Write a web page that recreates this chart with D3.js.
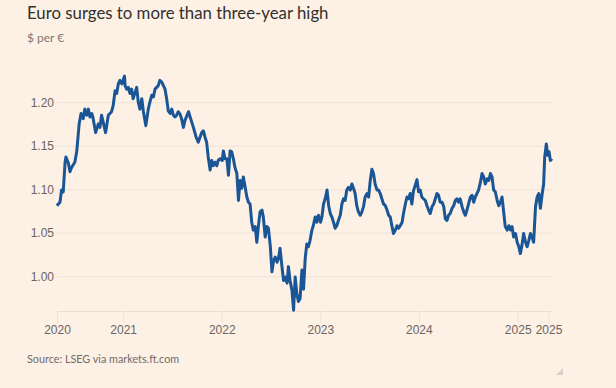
<!DOCTYPE html>
<html>
<head>
<meta charset="utf-8">
<script src="https://cdn.jsdelivr.net/npm/d3@7"></script>
<style>
  body { margin: 0; background: #fdf0e5; }
  svg { display: block; font-family: Lato, "Open Sans", sans-serif; }
  .axis text { fill: #6b6460; font-size: 12px; }
  .axis .domain { stroke: #ebded2; }
  .axis line { stroke: #f0e3d8; }
  .title { fill: #33302e; font-size: 16.8px; }
  .subtitle { fill: #807973; font-size: 12px; }
  .source { fill: #736c67; font-size: 10.8px; }
</style>
</head>
<body>
<svg id="chart"></svg>
<script>
const chartTitle = "Euro surges to more than three-year high";
const chartSubtitle = "$ per €";
const chartSource = "Source: LSEG via markets.ft.com";

// $ per €
const fx2020 = [
  ["2020-05-01",1.081],["2020-05-06",1.083],["2020-05-12",1.085],["2020-05-18",1.099],["2020-05-24",1.097],
  ["2020-05-31",1.131],["2020-06-03",1.137],["2020-06-12",1.130],["2020-06-18",1.120],["2020-06-24",1.125],
  ["2020-07-06",1.131],["2020-07-13",1.143],["2020-07-22",1.175],["2020-07-29",1.187],["2020-08-06",1.181],
  ["2020-08-12",1.192],["2020-08-19",1.185],["2020-08-25",1.192],["2020-08-31",1.183],["2020-09-07",1.187],
  ["2020-09-12",1.181],["2020-09-21",1.165],["2020-10-01",1.175],["2020-10-07",1.171],["2020-10-13",1.185],
  ["2020-10-19",1.177],["2020-10-28",1.165],["2020-11-07",1.185],["2020-11-13",1.187],["2020-11-19",1.189],
  ["2020-11-25",1.196],["2020-12-02",1.213],["2020-12-08",1.210],["2020-12-14",1.221],["2020-12-20",1.225],
  ["2020-12-27",1.221]
];
const fx2021 = [
  ["2021-01-06",1.230],["2021-01-08",1.219],["2021-01-14",1.215],["2021-01-20",1.217],["2021-01-26",1.210],
  ["2021-02-01",1.215],["2021-02-07",1.204],["2021-02-14",1.211],["2021-02-20",1.217],["2021-02-26",1.200],
  ["2021-03-04",1.192],["2021-03-11",1.204],["2021-03-17",1.189],["2021-03-26",1.173],["2021-04-04",1.192],
  ["2021-04-10",1.200],["2021-04-17",1.208],["2021-04-23",1.206],["2021-04-29",1.215],["2021-05-05",1.217],
  ["2021-05-11",1.219],["2021-05-17",1.225],["2021-05-24",1.223],["2021-05-30",1.219],["2021-06-05",1.215],
  ["2021-06-11",1.204],["2021-06-17",1.190],["2021-06-24",1.187],["2021-06-30",1.192],["2021-07-06",1.185],
  ["2021-07-12",1.183],["2021-07-18",1.185],["2021-07-24",1.189],["2021-07-31",1.186],["2021-08-06",1.180],
  ["2021-08-12",1.171],["2021-08-18",1.179],["2021-08-31",1.189],["2021-09-06",1.183],["2021-09-12",1.177],
  ["2021-09-18",1.171],["2021-09-28",1.160],["2021-10-06",1.154],["2021-10-13",1.160],["2021-10-19",1.165],
  ["2021-10-25",1.167],["2021-10-31",1.160],["2021-11-06",1.154],["2021-11-12",1.137],["2021-11-19",1.122],
  ["2021-11-25",1.133],["2021-12-01",1.127],["2021-12-07",1.131],["2021-12-14",1.127],["2021-12-19",1.133],
  ["2021-12-26",1.135]
];
const fx2022 = [
  ["2022-01-03",1.133],["2022-01-07",1.144],["2022-01-13",1.135],["2022-01-20",1.135],["2022-01-26",1.116],
  ["2022-02-01",1.144],["2022-02-07",1.143],["2022-02-13",1.135],["2022-02-19",1.125],["2022-02-26",1.118],
  ["2022-03-04",1.087],["2022-03-10",1.110],["2022-03-16",1.101],["2022-03-22",1.114],["2022-03-29",1.102],
  ["2022-04-04",1.091],["2022-04-10",1.085],["2022-04-16",1.083],["2022-04-22",1.062],["2022-04-28",1.053],
  ["2022-05-05",1.057],["2022-05-11",1.039],["2022-05-17",1.058],["2022-05-23",1.074],["2022-05-30",1.076],
  ["2022-06-04",1.068],["2022-06-11",1.045],["2022-06-17",1.057],["2022-06-23",1.055],["2022-06-30",1.034],
  ["2022-07-06",1.005],["2022-07-12",1.018],["2022-07-18",1.022],["2022-07-25",1.016],["2022-07-31",1.022],
  ["2022-08-05",1.032],["2022-08-12",1.011],["2022-08-18",0.995],["2022-08-24",0.999],["2022-08-31",0.992],
  ["2022-09-05",1.011],["2022-09-11",0.995],["2022-09-18",0.984],["2022-09-24",0.961],["2022-09-30",0.999],
  ["2022-10-06",0.980],["2022-10-12",0.971],["2022-10-18",0.974],["2022-10-25",1.007],["2022-10-31",0.985],
  ["2022-11-06",1.020],["2022-11-12",1.037],["2022-11-18",1.034],["2022-11-24",1.041],["2022-12-01",1.053],
  ["2022-12-06",1.058],["2022-12-13",1.068],["2022-12-19",1.062],["2022-12-25",1.070]
];
const fx2023 = [
  ["2023-01-02",1.062],["2023-01-07",1.068],["2023-01-13",1.083],["2023-01-19",1.089],["2023-01-26",1.099],
  ["2023-02-01",1.081],["2023-02-07",1.072],["2023-02-13",1.068],["2023-02-19",1.062],["2023-02-25",1.055],
  ["2023-03-03",1.058],["2023-03-09",1.064],["2023-03-16",1.070],["2023-03-22",1.083],["2023-03-28",1.089],
  ["2023-04-03",1.087],["2023-04-09",1.099],["2023-04-15",1.102],["2023-04-22",1.099],["2023-04-28",1.106],
  ["2023-05-04",1.101],["2023-05-10",1.095],["2023-05-16",1.081],["2023-05-22",1.074],["2023-05-29",1.070],
  ["2023-06-04",1.074],["2023-06-10",1.080],["2023-06-16",1.091],["2023-06-23",1.095],["2023-06-29",1.091],
  ["2023-07-05",1.110],["2023-07-11",1.123],["2023-07-17",1.118],["2023-07-23",1.106],["2023-07-30",1.099],
  ["2023-08-05",1.099],["2023-08-11",1.095],["2023-08-17",1.089],["2023-08-23",1.083],["2023-08-30",1.081],
  ["2023-09-05",1.076],["2023-09-11",1.070],["2023-09-17",1.068],["2023-09-23",1.058],["2023-09-29",1.049],
  ["2023-10-06",1.053],["2023-10-12",1.058],["2023-10-18",1.055],["2023-10-24",1.058],["2023-10-31",1.062],
  ["2023-11-05",1.072],["2023-11-12",1.083],["2023-11-18",1.091],["2023-11-24",1.089],["2023-11-30",1.095],
  ["2023-12-06",1.083],["2023-12-12",1.098],["2023-12-18",1.104],["2023-12-25",1.111],["2023-12-31",1.097]
];
const fx2024 = [
  ["2024-01-06",1.099],["2024-01-12",1.091],["2024-01-18",1.089],["2024-01-25",1.087],["2024-01-31",1.081],
  ["2024-02-06",1.076],["2024-02-12",1.072],["2024-02-19",1.080],["2024-02-25",1.083],["2024-03-02",1.089],
  ["2024-03-08",1.095],["2024-03-14",1.093],["2024-03-20",1.085],["2024-03-27",1.085],["2024-04-02",1.080],
  ["2024-04-08",1.066],["2024-04-14",1.064],["2024-04-20",1.070],["2024-04-26",1.072],["2024-05-03",1.078],
  ["2024-05-09",1.081],["2024-05-15",1.087],["2024-05-21",1.089],["2024-05-27",1.085],["2024-06-02",1.089],
  ["2024-06-09",1.080],["2024-06-15",1.074],["2024-06-21",1.070],["2024-06-27",1.076],["2024-07-03",1.083],
  ["2024-07-10",1.091],["2024-07-16",1.093],["2024-07-22",1.085],["2024-07-28",1.091],["2024-08-03",1.095],
  ["2024-08-09",1.099],["2024-08-16",1.108],["2024-08-22",1.118],["2024-08-28",1.114],["2024-09-03",1.106],
  ["2024-09-10",1.112],["2024-09-16",1.110],["2024-09-22",1.118],["2024-09-28",1.114],["2024-10-04",1.099],
  ["2024-10-10",1.097],["2024-10-17",1.087],["2024-10-23",1.081],["2024-10-29",1.085],["2024-11-04",1.091],
  ["2024-11-10",1.074],["2024-11-16",1.057],["2024-11-23",1.053],["2024-11-29",1.058],["2024-12-05",1.053],
  ["2024-12-11",1.057],["2024-12-17",1.045],["2024-12-24",1.049],["2024-12-30",1.039]
];
const fx2025 = [
  ["2025-01-05",1.034],["2025-01-11",1.026],["2025-01-17",1.036],["2025-01-23",1.049],["2025-01-30",1.039],
  ["2025-02-05",1.034],["2025-02-11",1.041],["2025-02-17",1.049],["2025-02-23",1.045],["2025-03-01",1.039],
  ["2025-03-08",1.080],["2025-03-14",1.091],["2025-03-20",1.095],["2025-03-26",1.078],["2025-04-01",1.093],
  ["2025-04-07",1.106],["2025-04-11",1.137],["2025-04-17",1.152],["2025-04-22",1.139],["2025-04-27",1.143],
  ["2025-05-02",1.133],["2025-05-08",1.135]
];

const yTicks = [1.00, 1.05, 1.10, 1.15, 1.20];
const xTicks = ["2020-05-01","2021-01-01","2022-01-01","2023-01-01","2024-01-01","2025-01-01","2025-04-25"];
const yDomain = [0.96, 1.245];

class LineChart {

  constructor(_config, _data) {
    this.config = {
      parentElement: _config.parentElement,
      containerWidth: _config.containerWidth || 616,
      containerHeight: _config.containerHeight || 388,
      margin: _config.margin || {top: 63, right: 64, bottom: 77, left: 57}
    }
    this.data = _data;
    this.initVis();
  }

  initVis() {
    const cfg = this.config;
    this.width = cfg.containerWidth - cfg.margin.left - cfg.margin.right;
    this.height = cfg.containerHeight - cfg.margin.top - cfg.margin.bottom;

    const parse = d3.timeParse("%Y-%m-%d");
    this.data = this.data.map(d => ({date: parse(d[0]), value: d[1]}));

    this.xScale = d3.scaleTime(d3.extent(this.data, d => d.date), [0, this.width]);
    this.yScale = d3.scaleLinear(yDomain, [this.height, 0]);

    this.xAxis = d3.axisBottom(this.xScale)
      .tickValues(xTicks.map(parse))
      .tickFormat(d3.timeFormat("%Y"))
      .tickSizeInner(12)
      .tickSizeOuter(0)
      .tickPadding(2);

    this.yAxis = d3.axisLeft(this.yScale)
      .tickValues(yTicks)
      .tickFormat(d3.format(".2f"))
      .tickSize(-this.width)
      .tickPadding(3);

    this.svg = d3.select(cfg.parentElement)
      .attr('width', cfg.containerWidth)
      .attr('height', cfg.containerHeight);

    this.chart = this.svg.append('g')
      .attr('transform', `translate(${cfg.margin.left},${cfg.margin.top})`);

    this.yAxisG = this.chart.append('g').attr('class', 'axis y-axis');
    this.xAxisG = this.chart.append('g')
      .attr('class', 'axis x-axis')
      .attr('transform', `translate(0,${this.height})`);

    // titles
    this.svg.append('text').attr('class', 'title')
      .attr('x', 27).attr('y', 19).text(chartTitle);
    this.svg.append('text').attr('class', 'subtitle')
      .attr('x', 27).attr('y', 42).text(chartSubtitle);
    this.svg.append('text').attr('class', 'source')
      .attr('x', 27).attr('y', 363).text(chartSource);

    // little corner mark, bottom right
    this.svg.append('path')
      .attr('d', 'M563,368 L563,375 L556,375 Z')
      .attr('fill', '#ddd0c6');
  }

  updateVis() {
    this.yAxisG.call(this.yAxis)
      .call(g => g.select('.domain').remove());

    this.xAxisG.call(this.xAxis);

    const line = d3.line()
      .x(d => this.xScale(d.date))
      .y(d => this.yScale(d.value));

    this.chart.append('path')
      .datum(this.data)
      .attr('fill', 'none')
      .attr('stroke', '#1a5696')
      .attr('stroke-width', 3)
      .attr('stroke-linejoin', 'round')
      .attr('d', line);
  }
}

const allRates = [...fx2020, ...fx2021, ...fx2022, ...fx2023, ...fx2024, ...fx2025];
const chart = new LineChart({parentElement: '#chart'}, allRates);
chart.updateVis();
</script>
</body>
</html>
